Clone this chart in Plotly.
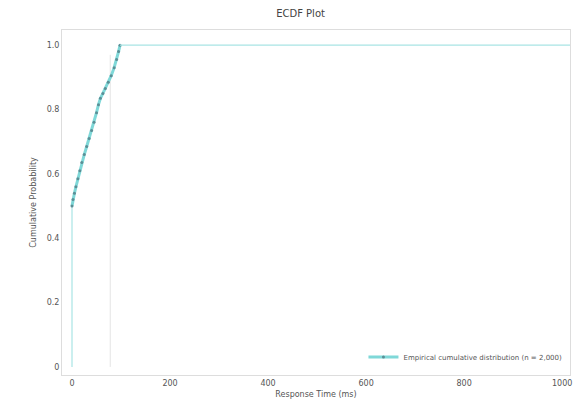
import plotly.graph_objects as go

# Sorted sample values and their empirical cumulative probabilities
values = [0, 2, 5, 8, 12, 16, 20, 25, 30, 35, 40, 45, 50, 54, 58, 63, 68,
          74, 80, 86, 91, 95, 98]
cum_prob = [0.50, 0.52, 0.54, 0.56, 0.585, 0.61, 0.635, 0.66, 0.685, 0.71,
            0.735, 0.76, 0.79, 0.815, 0.835, 0.85, 0.865, 0.885, 0.905,
            0.93, 0.955, 0.98, 1.0]
p90_value = 78  # 90th percentile of the samples

x_ticks = [0, 200, 400, 600, 800, 1000]
y_ticks = [0, 0.2, 0.4, 0.6, 0.8, 1.0]
x_max = 1016

line_color = "#7fd8d8"
thin_color = "#a8e4e4"
marker_color = "#5b8f96"

fig = go.Figure()

# Faint guide at the 90th percentile
fig.add_trace(go.Scatter(
    x=[p90_value, p90_value], y=[0, 0.97],
    mode="lines", line=dict(color="#e4e4e4", width=1),
    showlegend=False, hoverinfo="skip",
))

# Jump at zero: share of samples equal to the minimum
fig.add_trace(go.Scatter(
    x=[values[0], values[0]], y=[0, cum_prob[0]],
    mode="lines", line=dict(color=thin_color, width=1.2),
    showlegend=False, hoverinfo="skip",
))

fig.add_trace(go.Scatter(
    x=values, y=cum_prob,
    mode="lines+markers",
    line=dict(color=line_color, width=3),
    marker=dict(color=marker_color, size=3),
    name="Empirical cumulative distribution (n = 2,000)",
))

# ECDF stays at 1 past the largest sample
fig.add_trace(go.Scatter(
    x=[values[-1], x_max], y=[cum_prob[-1], cum_prob[-1]],
    mode="lines", line=dict(color=thin_color, width=1.2),
    showlegend=False, hoverinfo="skip",
))

fig.update_layout(
    width=578, height=401,
    margin=dict(l=62, r=8, t=30, b=26),
    paper_bgcolor="white",
    plot_bgcolor="white",
    font=dict(family="DejaVu Sans", size=8, color="#555"),
    title=dict(text="ECDF Plot", x=0.52, xanchor="center", y=0.975, yanchor="top",
               font=dict(size=10, color="#444")),
    legend=dict(x=0.995, y=0.01, xanchor="right", yanchor="bottom",
                bgcolor="rgba(255,255,255,0)", font=dict(size=7, color="#555"),
                itemwidth=30),
    showlegend=True,
)

fig.update_xaxes(
    range=[-20.4, x_max], tickvals=x_ticks, showgrid=False, zeroline=False,
    showline=True, linecolor="#ddd", mirror=True, ticks="",
    title=dict(text="Response Time (ms)", standoff=4, font=dict(size=8)),
    automargin=False,
)
fig.update_yaxes(
    range=[-0.025, 1.047], tickvals=y_ticks, ticktext=["0", "0.2", "0.4", "0.6", "0.8", "1.0"],
    showgrid=False, zeroline=False,
    showline=True, linecolor="#ddd", mirror=True, ticks="",
    title=dict(text="Cumulative Probability", standoff=8, font=dict(size=8)),
    automargin=False,
)

fig.write_html("out.html")
